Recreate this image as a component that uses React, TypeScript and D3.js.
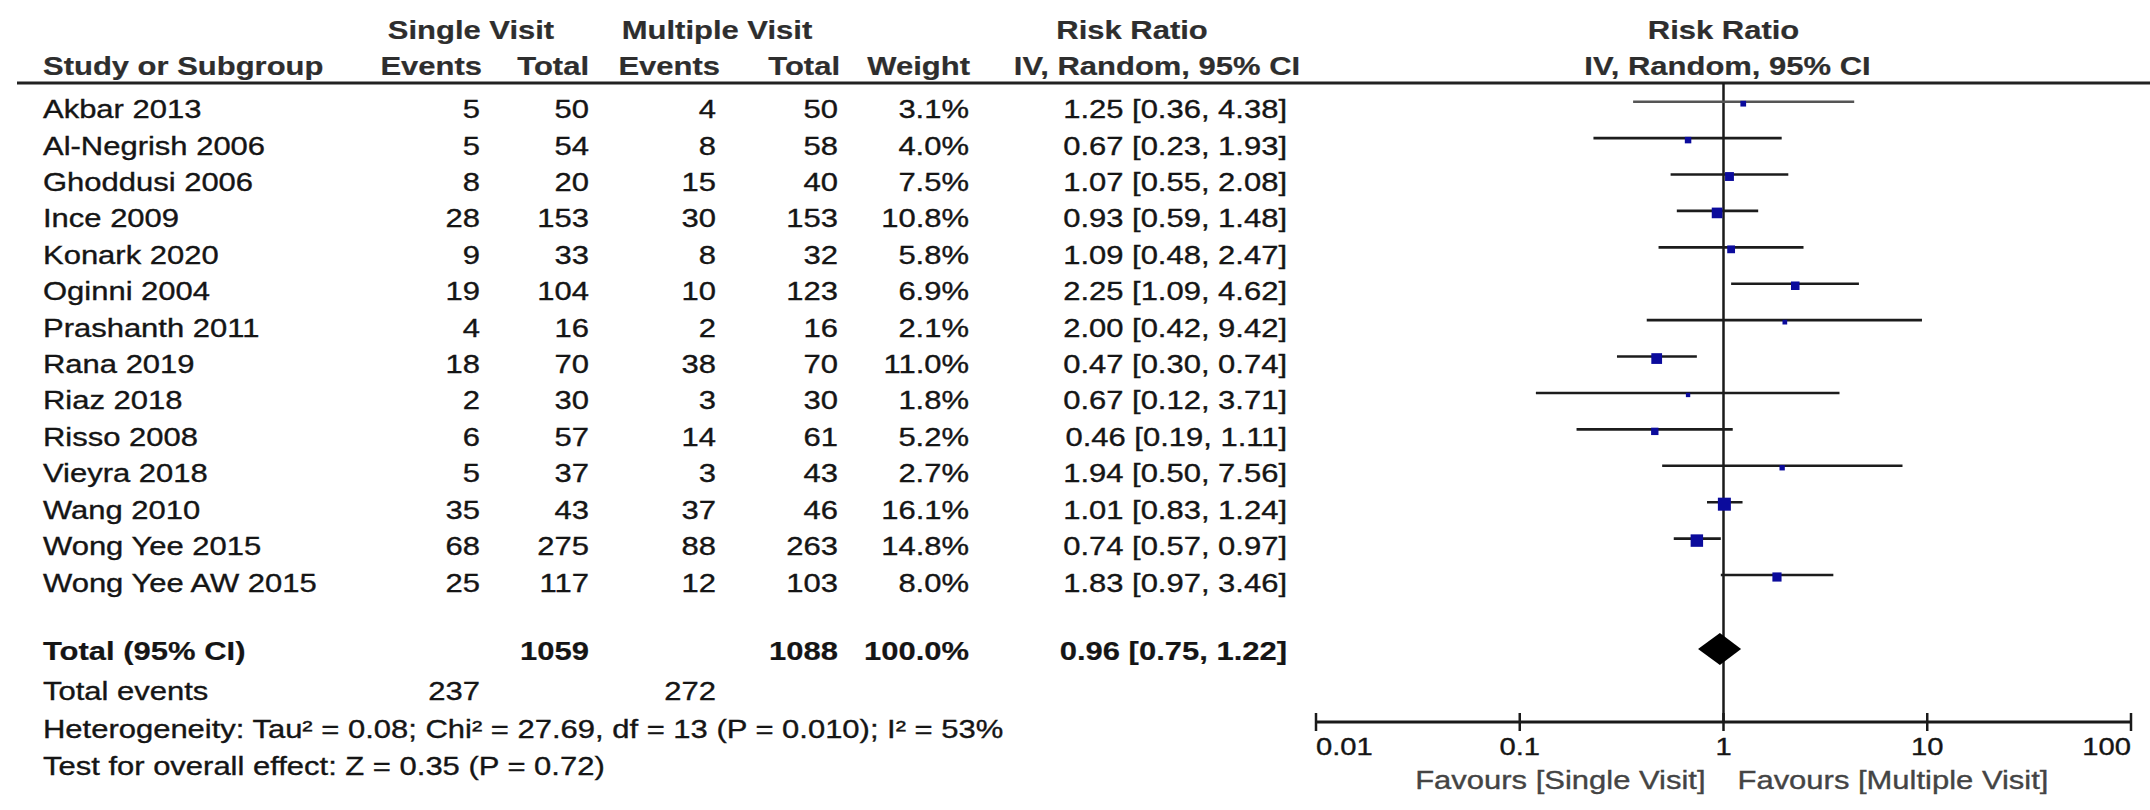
import * as d3 from "d3";

// forest plot: single vs multiple visit, risk ratio (IV, random)
const studies = [
  "Akbar 2013", "Al-Negrish 2006", "Ghoddusi 2006", "Ince 2009", "Konark 2020",
  "Oginni 2004", "Prashanth 2011", "Rana 2019", "Riaz 2018", "Risso 2008",
  "Vieyra 2018", "Wang 2010", "Wong Yee 2015", "Wong Yee AW 2015",
];
const singleEvents = [5, 5, 8, 28, 9, 19, 4, 18, 2, 6, 5, 35, 68, 25];
const singleTotal = [50, 54, 20, 153, 33, 104, 16, 70, 30, 57, 37, 43, 275, 117];
const multiEvents = [4, 8, 15, 30, 8, 10, 2, 38, 3, 14, 3, 37, 88, 12];
const multiTotal = [50, 58, 40, 153, 32, 123, 16, 70, 30, 61, 43, 46, 263, 103];
const weights = [3.1, 4.0, 7.5, 10.8, 5.8, 6.9, 2.1, 11.0, 1.8, 5.2, 2.7, 16.1, 14.8, 8.0];
const ratios = [1.25, 0.67, 1.07, 0.93, 1.09, 2.25, 2.0, 0.47, 0.67, 0.46, 1.94, 1.01, 0.74, 1.83];
const lower = [0.36, 0.23, 0.55, 0.59, 0.48, 1.09, 0.42, 0.3, 0.12, 0.19, 0.5, 0.83, 0.57, 0.97];
const upper = [4.38, 1.93, 2.08, 1.48, 2.47, 4.62, 9.42, 0.74, 3.71, 1.11, 7.56, 1.24, 0.97, 3.46];

const pooled = [0.96, 0.75, 1.22];
const pooledTotals = [1059, 1088];
const pooledEvents = [237, 272];
const axisTicks = [0.01, 0.1, 1, 10, 100];
const axisLabels = ["0.01", "0.1", "1", "10", "100"];

const FONT = "'Liberation Sans', Arial, sans-serif";
const SX = 1.215; // source image is stretched horizontally

function T({ x, y, children, anchor = "start", bold = false, size = 25.5, fill = "#151515" }: any) {
  return (
    <text
      transform={`translate(${x},${y}) scale(${SX},1)`}
      textAnchor={anchor}
      fontWeight={bold ? "bold" : "normal"}
      fontSize={size}
      fill={fill}
      stroke={fill}
      strokeWidth={bold ? 0.2 : 0.35}
    >
      {children}
    </text>
  );
}

export default function App() {
  const width = 2150;
  const height = 810;

  const x = d3.scaleLog().domain([0.01, 100]).range([1316, 2131]);
  const rowY = d3.scaleLinear().domain([0, studies.length - 1]).range([101.7, 575]);
  const box = d3.scaleSqrt().domain([0, 16.1]).range([0, 13]);

  const col = { name: 43, sE: 480, sT: 589, mE: 716, mT: 838, w: 969, rr: 1287 };
  const fmt = d3.format(".2f");
  const headFill = "#2e2e2e";

  const totalY = 649;
  const axisY = 722;
  const x1 = x(1);

  return (
    <svg
      width={width}
      height={height}
      style={{ position: "absolute", left: 0, top: 0, background: "#fff" }}
      fontFamily={FONT}
    >
      {/* column headers */}
      <T x={471} y={39} anchor="middle" bold fill={headFill}>Single Visit</T>
      <T x={717} y={39} anchor="middle" bold fill={headFill}>Multiple Visit</T>
      <T x={1132} y={39} anchor="middle" bold fill={headFill}>Risk Ratio</T>
      <T x={x1} y={39} anchor="middle" bold fill={headFill}>Risk Ratio</T>
      <T x={col.name} y={75} bold fill={headFill}>Study or Subgroup</T>
      <T x={482} y={75} anchor="end" bold fill={headFill}>Events</T>
      <T x={col.sT} y={75} anchor="end" bold fill={headFill}>Total</T>
      <T x={720} y={75} anchor="end" bold fill={headFill}>Events</T>
      <T x={840} y={75} anchor="end" bold fill={headFill}>Total</T>
      <T x={970} y={75} anchor="end" bold fill={headFill}>Weight</T>
      <T x={1157} y={75} anchor="middle" bold fill={headFill}>IV, Random, 95% CI</T>
      <T x={x1 + 4} y={75} anchor="middle" bold fill={headFill}>IV, Random, 95% CI</T>
      <line x1={17} x2={width} y1={83} y2={83} stroke="#222" strokeWidth={3.2} />

      {/* line of no effect */}
      <line x1={x1} x2={x1} y1={83} y2={axisY} stroke="#1a1a1a" strokeWidth={2.5} />

      {/* study rows */}
      {studies.map((s, i) => {
        const y = rowY(i);
        const b = y + 16.5;
        const side = box(weights[i]);
        return (
          <g key={s}>
            <T x={col.name} y={b}>{s}</T>
            <T x={col.sE} y={b} anchor="end">{singleEvents[i]}</T>
            <T x={col.sT} y={b} anchor="end">{singleTotal[i]}</T>
            <T x={col.mE} y={b} anchor="end">{multiEvents[i]}</T>
            <T x={col.mT} y={b} anchor="end">{multiTotal[i]}</T>
            <T x={col.w} y={b} anchor="end">{weights[i].toFixed(1)}%</T>
            <T x={col.rr} y={b} anchor="end">
              {`${fmt(ratios[i])} [${fmt(lower[i])}, ${fmt(upper[i])}]`}
            </T>
            <line
              x1={x(lower[i])}
              x2={x(upper[i])}
              y1={y}
              y2={y}
              stroke={i === 0 ? "#555" : "#1c1c1c"}
              strokeWidth={2.6}
            />
            <rect
              x={x(ratios[i]) - side / 2}
              y={y + 2 - side / 2}
              width={side}
              height={side}
              fill="#0b0b9c"
            />
          </g>
        );
      })}

      {/* pooled estimate */}
      <T x={col.name} y={660} bold>Total (95% CI)</T>
      <T x={col.sT} y={660} anchor="end" bold>{pooledTotals[0]}</T>
      <T x={col.mT} y={660} anchor="end" bold>{pooledTotals[1]}</T>
      <T x={col.w} y={660} anchor="end" bold>100.0%</T>
      <T x={col.rr} y={660} anchor="end" bold>
        {`${fmt(pooled[0])} [${fmt(pooled[1])}, ${fmt(pooled[2])}]`}
      </T>
      <path
        d={`M${x(pooled[1])},${totalY} L${x(pooled[0])},${totalY - 16} L${x(pooled[2])},${totalY} L${x(pooled[0])},${totalY + 16} Z`}
        fill="#000"
      />

      <T x={col.name} y={700}>Total events</T>
      <T x={col.sE} y={700} anchor="end">{pooledEvents[0]}</T>
      <T x={col.mE} y={700} anchor="end">{pooledEvents[1]}</T>
      <T x={col.name} y={738}>Heterogeneity: Tau² = 0.08; Chi² = 27.69, df = 13 (P = 0.010); I² = 53%</T>
      <T x={col.name} y={775}>Test for overall effect: Z = 0.35 (P = 0.72)</T>

      {/* axis */}
      <line x1={x(0.01)} x2={x(100)} y1={axisY} y2={axisY} stroke="#1a1a1a" strokeWidth={3} />
      {axisTicks.map((t, i) => (
        <g key={t}>
          <line x1={x(t)} x2={x(t)} y1={axisY - 9} y2={axisY + 9} stroke="#1a1a1a" strokeWidth={2.5} />
          <T
            x={x(t)}
            y={755}
            size={24}
            anchor={i === 0 ? "start" : i === axisTicks.length - 1 ? "end" : "middle"}
          >
            {axisLabels[i]}
          </T>
        </g>
      ))}
      <T x={x1 - 18} y={789} anchor="end" fill="#444">Favours [Single Visit]</T>
      <T x={x1 + 14} y={789} fill="#444">Favours [Multiple Visit]</T>
    </svg>
  );
}
